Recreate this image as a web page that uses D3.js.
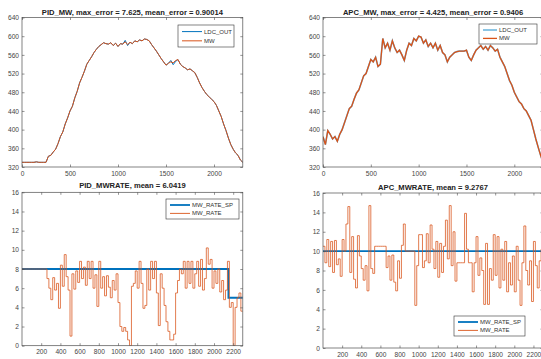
<!DOCTYPE html>
<html>
<head>
<meta charset="utf-8">
<script src="https://cdn.jsdelivr.net/npm/d3@7"></script>
<style>
  body { margin: 0; background: #fff; }
  svg { display: block; font-family: "Liberation Sans", Arial, sans-serif; }
</style>
</head>
<body>
<div id="chart"></div>
<script>
// ---- data ----
// top plots: one sample every 25 units, 0..2300
var mwStep = 25;
var pidMw = [330,330,330,330,330,330,331,330,330,330,330,
  343,345,352,358,370,385,395,412,425,440,450,468,482,500,512,525,540,548,556,565,572,578,
  582,586,584,583,586,580,585,578,584,583,588,582,587,584,590,588,592,590,594,593,
  590,582,575,568,560,552,545,538,542,545,543,548,550,540,535,532,528,530,526,522,
  512,500,490,482,475,470,465,460,452,440,428,412,398,382,368,358,350,345,335,330];
var pidLdc = [330,330,330,330,330,330,331,330,330,330,330,
  343,345,352,358,370,385,395,412,425,440,450,468,482,500,512,525,540,548,556,565,572,578,
  582,586,584,583,586,580,585,578,584,583,591,580,587,584,590,588,592,590,594,593,
  590,582,575,568,560,552,545,538,542,548,539,546,550,540,535,532,528,530,526,522,
  512,500,490,482,475,470,465,460,452,440,428,412,398,382,368,358,350,345,335,330];
var apcMw = [385,368,398,390,380,385,375,390,400,415,430,445,450,465,478,485,500,515,520,535,
  550,545,555,535,540,595,575,585,570,590,575,565,570,560,548,570,585,580,595,590,
  600,598,585,592,578,585,575,585,570,580,565,560,545,555,560,565,567,568,568,568,
  570,555,548,560,570,575,580,572,578,570,580,575,568,572,555,545,535,520,505,495,
  480,470,460,455,445,440,430,420,400,380,362,345,330];
var apcLdc = apcMw.slice();

// bottom plots: one sample every 20 units, 0..2300
var rateStep = 20;
var pidRate = [8,8,8,8,8,8,8,8,8,8,8,8,8,
  7,6,4.8,7.1,5.8,6.5,3.9,8.4,6.2,9.5,7.2,5.8,1.0,7.5,5.9,7.8,6.6,8.8,7.0,8.2,6.3,8.8,
  7.0,8.8,6.0,7.4,4.1,8.8,6.0,7.2,5.2,7.3,6.1,5.0,6.8,5.8,7.5,4.5,2.0,1.5,1.9,1.5,
  0.6,0,6.2,6.5,7.8,6.0,8.8,6.5,3.9,4.2,8.0,5.8,8.8,7.0,8.8,5.5,2.1,7.5,6.0,4.2,
  2.5,1.5,0.6,0.6,1.2,5.5,6.8,8.0,7.5,8.8,6.0,8.8,6.5,8.8,6.0,7.5,8.8,6.2,9.0,5.8,
  7.0,10.2,8.5,9.0,6.0,7.8,6.5,8.0,5.6,6.8,4.8,5.8,8.8,4.0,4.5,0,4.0,5.0,5.5,3.6,3.6];
var apcRate = [10.5,8.8,11.2,8.4,11.0,7.8,11.1,8.6,9.2,7.4,11.2,10.0,12.8,14.6,7.8,11.5,
  7.1,6.2,11.6,9.5,8.2,7.0,8.5,5.9,14.7,8.2,7.7,10.5,10.5,10.5,10.5,10.5,10.5,8.3,9.5,
  7.0,9.6,6.8,5.9,9.0,7.2,10.6,12.8,10.0,10.0,10.0,10.0,10.0,4.4,8.5,11.7,11.7,8.3,9.0,
  11.8,8.8,12.7,10.2,8.2,11.0,7.3,10.8,7.8,10.5,13.2,9.2,14.7,8.5,12.0,6.9,8.8,8.8,8.8,
  8.8,13.9,10.2,8.8,8.8,5.8,8.8,11.5,7.5,9.3,8.0,4.5,10.8,4.5,8.2,7.0,11.7,7.5,11.5,
  6.2,10.2,7.0,11.0,5.8,8.8,6.5,9.5,5.8,10.5,7.0,4.4,8.8,12.6,8.0,6.5,9.0,4.8,11.0,8.5,
  6.2,9.0,10.2,9.0];
// set points as [x, value] break points
var pidRateSp = [[0, 8], [2150, 8], [2150, 5], [2300, 5]];
var apcRateSp = [[0, 10], [2300, 10]];

var mwTicksX = [0, 500, 1000, 1500, 2000];
var mwTicksY = [320, 360, 400, 440, 480, 520, 560, 600, 640];
var rateTicksX = [200, 400, 600, 800, 1000, 1200, 1400, 1600, 1800, 2000, 2200];
var rateTicksY = [0, 2, 4, 6, 8, 10, 12, 14, 16];

var BLUE = "#0072BD", ORANGE = "#D95319", AXIS = "#4d4d4d";

var svg = d3.select("#chart").append("svg")
    .attr("width", 541)
    .attr("height", 359);

function drawPanel(p) {
    var x = d3.scaleLinear().domain([0, 2300]).range([p.left, p.right]);
    var y = d3.scaleLinear().domain(p.yDomain).range([p.bottom, p.top]);
    var g = svg.append("g");

    var clipId = "clip" + p.id;
    g.append("clipPath").attr("id", clipId).append("rect")
        .attr("x", p.left).attr("y", p.top)
        .attr("width", p.right - p.left).attr("height", p.bottom - p.top);

    var lines = g.append("g").attr("clip-path", "url(#" + clipId + ")");
    p.series.forEach(function(s) {
        var line = d3.line()
            .x(function(d) { return x(d[0]); })
            .y(function(d) { return y(d[1]); });
        if (s.step) line.curve(d3.curveStepAfter);
        lines.append("path")
            .datum(s.data)
            .attr("fill", "none")
            .attr("stroke", s.color)
            .attr("stroke-width", s.width)
            .attr("stroke-opacity", s.opacity || 1)
            .attr("d", line);
    });

    // box + inward ticks on all four sides
    var fmt = d3.format("d");
    function styleAxis(sel, hideText) {
        sel.select(".domain").remove();
        sel.selectAll(".tick line").attr("stroke", AXIS).attr("stroke-width", 0.6);
        sel.selectAll(".tick text").attr("fill", "#444").style("font-size", "6.6px");
        if (hideText) sel.selectAll(".tick text").remove();
    }
    g.append("g").attr("transform", "translate(0," + p.bottom + ")")
        .call(d3.axisBottom(x).tickValues(p.xTicks).tickFormat(fmt).tickSizeInner(-2.5).tickSizeOuter(0).tickPadding(4))
        .call(styleAxis, false);
    g.append("g").attr("transform", "translate(0," + p.top + ")")
        .call(d3.axisTop(x).tickValues(p.xTicks).tickSizeInner(-2.5).tickSizeOuter(0))
        .call(styleAxis, true);
    g.append("g").attr("transform", "translate(" + p.left + ",0)")
        .call(d3.axisLeft(y).tickValues(p.yTicks).tickFormat(fmt).tickSizeInner(-2.5).tickSizeOuter(0).tickPadding(3))
        .call(styleAxis, false);
    g.append("g").attr("transform", "translate(" + p.right + ",0)")
        .call(d3.axisRight(y).tickValues(p.yTicks).tickSizeInner(-2.5).tickSizeOuter(0))
        .call(styleAxis, true);
    g.append("rect")
        .attr("x", p.left).attr("y", p.top)
        .attr("width", p.right - p.left).attr("height", p.bottom - p.top)
        .attr("fill", "none").attr("stroke", AXIS).attr("stroke-width", 0.7);

    g.append("text")
        .attr("x", (p.left + p.right) / 2).attr("y", p.titleY)
        .attr("text-anchor", "middle")
        .attr("font-weight", "bold").attr("font-size", "7.6px").attr("fill", "#222")
        .text(p.title);

    // legend
    var L = p.legend;
    var lg = g.append("g");
    lg.append("rect")
        .attr("x", L.x).attr("y", L.y).attr("width", L.w).attr("height", L.h)
        .attr("fill", "#fff").attr("stroke", "#333").attr("stroke-width", 0.6);
    p.series.forEach(function(s, i) {
        var ry = L.y + L.h * (i === 0 ? 0.3 : 0.72);
        lg.append("line")
            .attr("x1", L.x + 4).attr("x2", L.x + 4 + L.line)
            .attr("y1", ry).attr("y2", ry)
            .attr("stroke", s.color).attr("stroke-width", s.legendWidth || s.width);
        lg.append("text")
            .attr("x", L.x + 6 + L.line).attr("y", ry + 2)
            .attr("font-size", "6px").attr("fill", "#333")
            .text(s.name);
    });
}

function indexed(vals, step) {
    return vals.map(function(v, i) { return [i * step, v]; });
}

drawPanel({
    id: "tl", left: 22, right: 242.8, top: 17.5, bottom: 167,
    yDomain: [320, 640], xTicks: mwTicksX, yTicks: mwTicksY,
    title: "PID_MW, max_error = 7.625, mean_error = 0.90014", titleY: 14.5,
    series: [
        {name: "LDC_OUT", data: indexed(pidLdc, mwStep), color: BLUE, width: 1},
        {name: "MW", data: indexed(pidMw, mwStep), color: ORANGE, width: 1}
    ],
    legend: {x: 178, y: 25, w: 56, h: 22, line: 20}
});

drawPanel({
    id: "tr", left: 323, right: 543, top: 17.5, bottom: 167,
    yDomain: [320, 640], xTicks: mwTicksX, yTicks: mwTicksY,
    title: "APC_MW, max_error = 4.425, mean_error = 0.9406", titleY: 14.5,
    series: [
        {name: "LDC_OUT", data: indexed(apcLdc, mwStep), color: "#6fb6de", width: 1.6},
        {name: "MW", data: indexed(apcMw, mwStep), color: ORANGE, width: 1.3}
    ],
    legend: {x: 479, y: 24, w: 58, h: 20, line: 14}
});

drawPanel({
    id: "bl", left: 22, right: 242.8, top: 192.3, bottom: 345.7,
    yDomain: [0, 16], xTicks: rateTicksX, yTicks: rateTicksY,
    title: "PID_MWRATE, mean = 6.0419", titleY: 188.3,
    series: [
        {name: "MW_RATE_SP", data: pidRateSp, color: BLUE, width: 1.8},
        {name: "MW_RATE", data: indexed(pidRate, rateStep), color: ORANGE, width: 0.9, opacity: 0.85, step: true}
    ],
    legend: {x: 166, y: 199, w: 73, h: 20, line: 20}
});

drawPanel({
    id: "br", left: 323, right: 543, top: 193, bottom: 348,
    yDomain: [0, 16], xTicks: rateTicksX, yTicks: rateTicksY,
    title: "APC_MWRATE, mean = 9.2767", titleY: 189.5,
    series: [
        {name: "MW_RATE_SP", data: apcRateSp, color: BLUE, width: 1.8},
        {name: "MW_RATE", data: indexed(apcRate, rateStep), color: ORANGE, width: 0.9, opacity: 0.85, step: true}
    ],
    legend: {x: 454, y: 316, w: 71, h: 20, line: 20}
});
</script>
</body>
</html>
